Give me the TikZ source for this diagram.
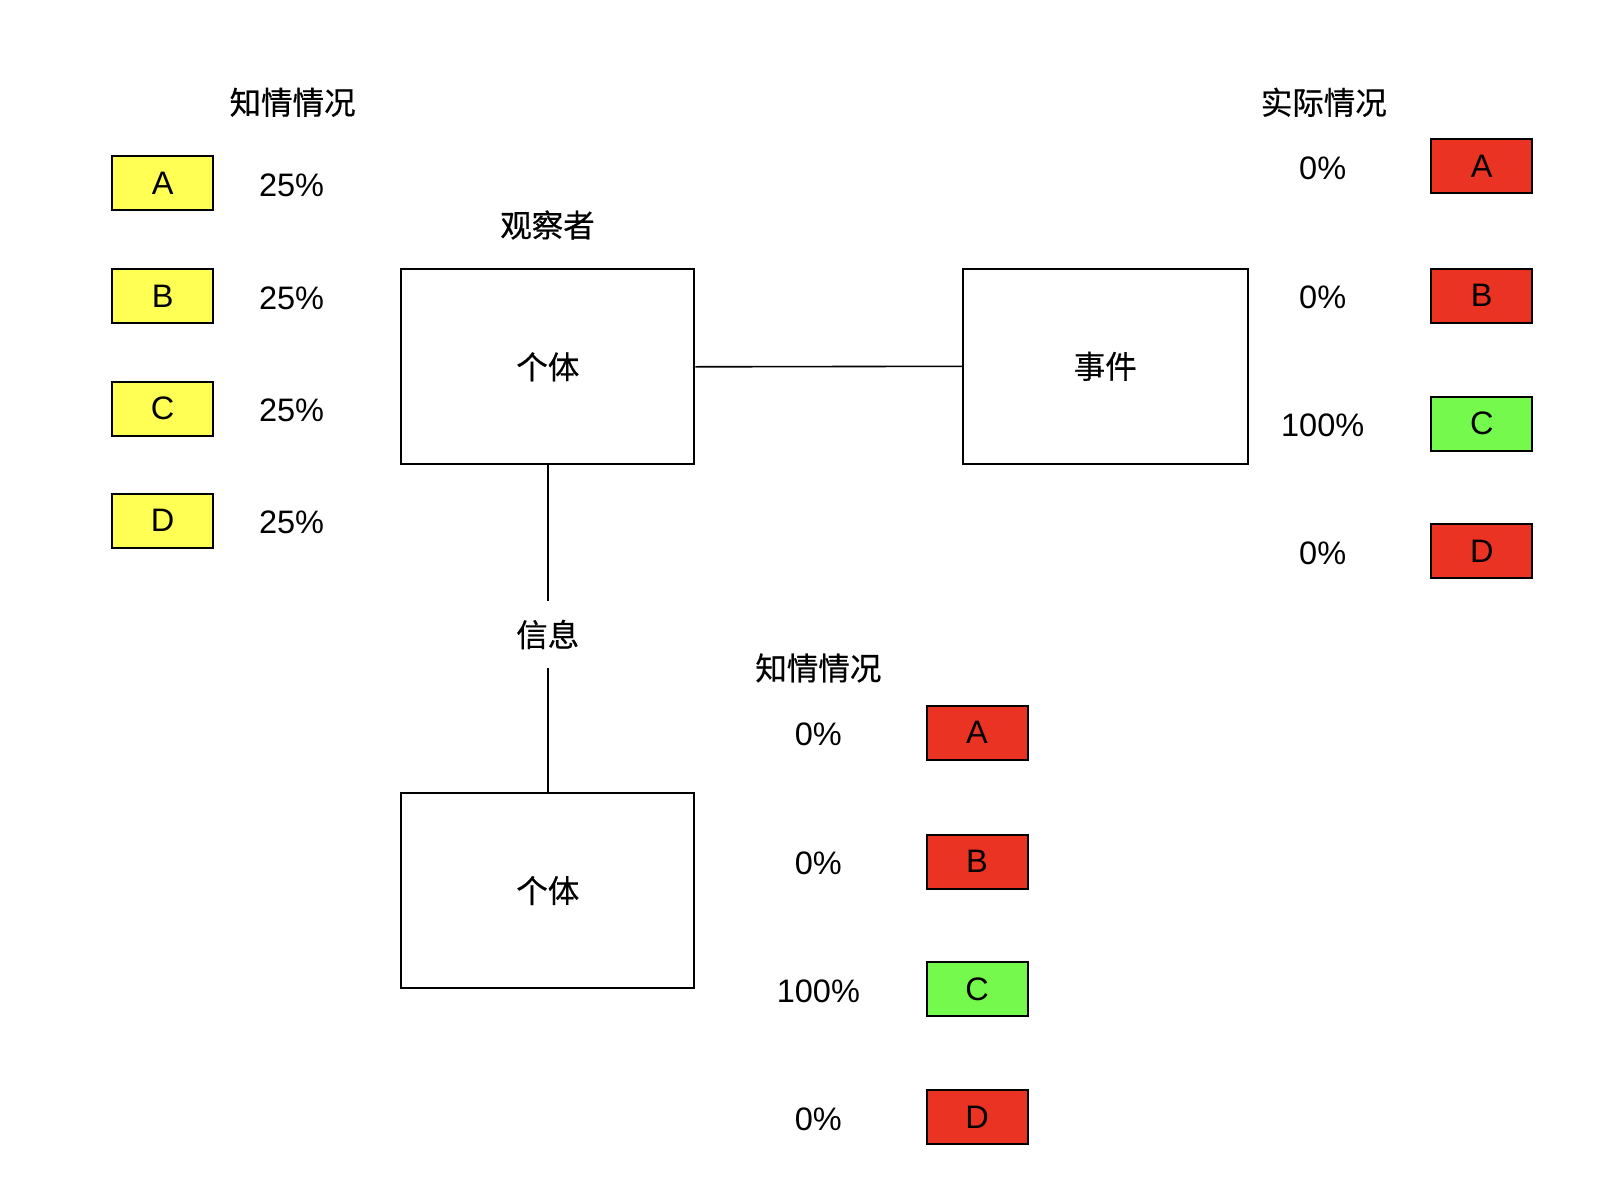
\documentclass[tikz,border=0pt]{standalone}
\usepackage{fontspec}
\setmainfont{Liberation Sans}
\newfontfamily\cjk[FakeBold=0.5]{Noto Sans CJK SC}
\definecolor{yel}{RGB}{255,255,84}
\definecolor{redb}{RGB}{234,51,35}
\definecolor{grnb}{RGB}{117,249,77}
\begin{document}
\begin{tikzpicture}[x=1pt,y=-1pt,
  every node/.style={font=\fontsize{32.5}{38}\selectfont, inner sep=0pt},
  cn/.style={font=\fontsize{31.5}{37}\selectfont\cjk},
  bigbox/.style={draw, line width=2pt, fill=white, minimum width=293pt, minimum height=195pt},
  optbox/.style={draw, line width=2pt, minimum width=101pt, minimum height=54pt},
  conn/.style={line width=1.6pt}]
\useasboundingbox[fill=white] (0,0) rectangle (1604,1184);

% left knowledge column
\node[cn] (t1) at (292.6,102.3) {知情情况};
\foreach \l/\y in {A/183.1,B/296.3,C/408.5,D/520.5}{
  \node[optbox, fill=yel] (y\l) at (162.7,\y) {\raisebox{-1.5pt}{\l}};
  \node (p\l) at (291.6,\y+2) {25\%};
}

% right actual column
\node[cn] (t2) at (1323.8,102.3) {实际情况};
\foreach \l/\y/\p/\c in {A/166.2/0\%/redb,B/295.5/0\%/redb,C/423.5/100\%/grnb,D/551.4/0\%/redb}{
  \node[optbox, fill=\c] (r\l) at (1481.8,\y) {\raisebox{-1.5pt}{\l}};
  \node (q\l) at (1322.7,\y+2) {\p};
}

% lower knowledge column
\node[cn] (t3) at (818.4,668) {知情情况};
\foreach \l/\y/\p/\c in {A/732.5/0\%/redb,B/861.5/0\%/redb,C/989.3/100\%/grnb,D/1117/0\%/redb}{
  \node[optbox, fill=\c] (s\l) at (977,\y) {\raisebox{-1.5pt}{\l}};
  \node (u\l) at (818.4,\y+2) {\p};
}

% main boxes
\node[cn] (obs) at (547.5,225) {观察者};
\node[bigbox, cn] (ind1) at (547.8,366.8) {个体};
\node[bigbox, cn, minimum width=285pt] (evt) at (1105.3,366.3) {事件};
\node[bigbox, cn] (ind2) at (547.8,890.5) {个体};
\node[cn, minimum height=67pt] (info) at (547.8,634.5) {信息};

\draw[conn] (ind1.east) -- (evt.west);
\draw[conn] (ind1.south) -- (info.north);
\draw[conn] (info.south) -- (ind2.north);
\end{tikzpicture}
\end{document}
